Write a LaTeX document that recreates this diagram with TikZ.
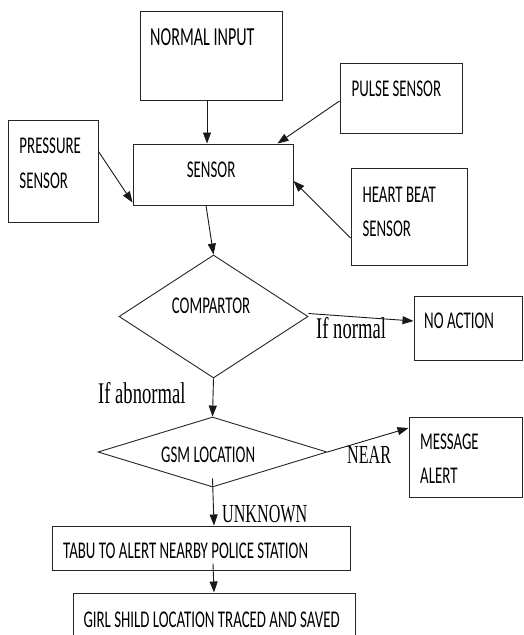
\documentclass[tikz,border=0pt]{standalone}
\usepackage{fontspec}
\usetikzlibrary{shapes.geometric,arrows.meta}
\newfontfamily\boxfont[FakeStretch=0.62]{Carlito}
\newfontfamily\lblfont[FakeStretch=0.62]{Liberation Serif}
\begin{document}
\begin{tikzpicture}[x=1pt,y=-1pt,
  box/.style={draw=black!85,line width=1pt,rectangle,inner sep=0pt},
  dia/.style={draw=black!85,line width=0.9pt,diamond,inner sep=0pt},
  btxt/.style={anchor=base west,inner sep=0pt,font=\boxfont\fontsize{24pt}{28pt}\selectfont},
  ltxt/.style={anchor=base west,inner sep=0pt,font=\lblfont\fontsize{26pt}{30pt}\selectfont},
  arr/.style={draw=black!90,line width=0.9pt,-{Triangle[length=11pt,width=8pt]}}]
\fill[white] (0,0) rectangle (523,635);
\useasboundingbox (0,0) rectangle (523,635);

% boxes
\node[box,minimum width=142pt,minimum height=89pt] (ni) at (211,55.5) {};
\node[box,minimum width=122pt,minimum height=70pt] (ps) at (401,98) {};
\node[box,minimum width=90pt,minimum height=102pt] (pr) at (53,171) {};
\node[box,minimum width=160pt,minimum height=61pt] (sen) at (213,174.5) {};
\node[box,minimum width=116pt,minimum height=97pt] (hb) at (409,216.5) {};
\node[dia,minimum width=189pt,minimum height=123pt] (comp) at (213.5,316.5) {};
\node[box,minimum width=108pt,minimum height=64pt] (na) at (468,328) {};
\node[dia,minimum width=229pt,minimum height=70pt] (gsm) at (212.5,452) {};
\node[box,minimum width=113pt,minimum height=80pt] (msg) at (465.5,457) {};
\node[box,minimum width=298pt,minimum height=44pt] (tabu) at (201,548) {};
\node[box,minimum width=282pt,minimum height=57pt] (girl) at (214,621.5) {};

% texts in boxes
\node[btxt,font=\boxfont\fontsize{26pt}{30pt}\selectfont] (tni) at (150,45) {NORMAL INPUT};
\node[btxt] (tps) at (351.5,96) {PULSE SENSOR};
\node[btxt] (tpr1) at (19.3,153) {PRESSURE};
\node[btxt] (tpr2) at (19.3,188) {SENSOR};
\node[btxt] (tsen) at (186.7,177) {SENSOR};
\node[btxt] (thb1) at (362.3,202) {HEART BEAT};
\node[btxt] (thb2) at (362.3,236) {SENSOR};
\node[btxt] (tcomp) at (171.7,313) {COMPARTOR};
\node[btxt] (tna) at (424,328) {NO ACTION};
\node[btxt] (tgsm) at (161,462) {GSM LOCATION};
\node[btxt] (tmsg1) at (420,449) {MESSAGE};
\node[btxt] (tmsg2) at (420,483) {ALERT};
\node[btxt] (ttabu) at (63,558) {TABU TO ALERT NEARBY POLICE STATION};
\node[btxt] (tgirl) at (83.3,627) {GIRL SHILD LOCATION TRACED AND SAVED};

% connector labels
\node[ltxt,font=\lblfont\fontsize{30pt}{34pt}\selectfont] (lnorm) at (316,338) {If normal};
\node[ltxt,font=\lblfont\fontsize{30pt}{34pt}\selectfont] (labn) at (98,403) {If abnormal};
\node[ltxt] (lnear) at (347,463) {NEAR};
\node[ltxt] (lunk) at (222,522) {UNKNOWN};

% connectors
\draw[arr] ([xshift=-4pt]ni.south) -- ([xshift=-6pt]sen.north);
\draw[arr] ([yshift=-3pt]ps.west) -- ([xshift=-16pt]sen.north east);
\draw[arr] ([yshift=-32pt]pr.north east) -- ([yshift=3pt]sen.south west);
\draw[arr] ([yshift=-21.5pt]hb.west) -- ([yshift=-6.5pt]sen.east);
\draw[arr] ([xshift=-7pt]sen.south) -- (comp.north);
\draw[arr] ([yshift=3pt]comp.east) -- ([yshift=7pt]na.west);
\draw[arr] (comp.south) -- (gsm.north);
\draw[arr] (gsm.east) -- ([yshift=29pt]msg.west);
\draw[arr] ([yshift=9pt]gsm.south) -- ([xshift=13pt]tabu.north);
\draw[arr] ([xshift=12pt,yshift=7pt]tabu.south) -- (girl.north);
\end{tikzpicture}
\end{document}
